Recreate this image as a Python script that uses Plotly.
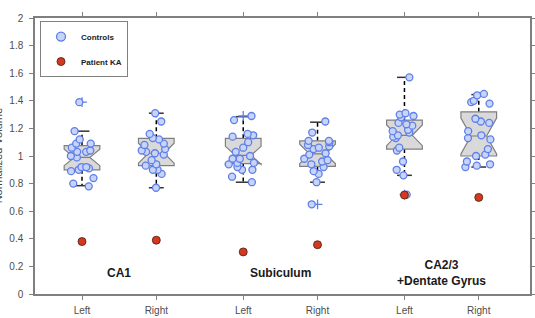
import plotly.graph_objects as go

# ---------------- data ----------------
tick_labels = ["Left", "Right", "Left", "Right", "Left", "Right"]
region_names = ["CA1", "Subiculum", "CA2/3<br>+Dentate Gyrus"]

ctrl_ca1_left = [1.39, 1.18, 1.12, 1.09, 1.09, 1.06, 1.04, 1.03, 1.03, 1.00,
                 0.99, 0.92, 0.92, 0.91, 0.90, 0.89, 0.84, 0.80, 0.78]
ctrl_ca1_right = [1.31, 1.25, 1.16, 1.13, 1.12, 1.09, 1.08, 1.05, 1.04, 1.03,
                  1.02, 1.01, 0.97, 0.94, 0.93, 0.90, 0.90, 0.87, 0.77]
ctrl_sub_left = [1.29, 1.26, 1.16, 1.15, 1.14, 1.10, 1.06, 1.03, 1.00, 0.98,
                 0.98, 0.95, 0.95, 0.94, 0.92, 0.90, 0.90, 0.85, 0.81]
ctrl_sub_right = [1.25, 1.17, 1.11, 1.11, 1.10, 1.08, 1.07, 1.06, 1.05, 1.02,
                  1.01, 0.98, 0.97, 0.96, 0.94, 0.92, 0.89, 0.87, 0.81, 0.65]
ctrl_ca23_left = [1.57, 1.31, 1.30, 1.29, 1.28, 1.24, 1.23, 1.22, 1.19, 1.18,
                  1.17, 1.15, 1.14, 1.13, 1.06, 1.04, 0.96, 0.90, 0.86, 0.72]
ctrl_ca23_right = [1.45, 1.44, 1.40, 1.39, 1.38, 1.27, 1.25, 1.24, 1.18, 1.15,
                   1.13, 1.12, 1.05, 1.01, 1.00, 0.96, 0.94, 0.93, 0.92]
controls = [ctrl_ca1_left, ctrl_ca1_right, ctrl_sub_left,
            ctrl_sub_right, ctrl_ca23_left, ctrl_ca23_right]

patient_ka = [0.38, 0.39, 0.305, 0.357, 0.717, 0.70]

# box statistics
box_q1 = [0.90, 0.93, 0.945, 0.925, 1.05, 1.00]
box_median = [0.99, 1.02, 1.005, 1.015, 1.15, 1.145]
box_q3 = [1.075, 1.128, 1.128, 1.11, 1.26, 1.32]
whisker_low = [0.785, 0.77, 0.81, 0.81, 0.86, 0.92]
whisker_high = [1.18, 1.31, 1.285, 1.245, 1.57, 1.445]
notch_half = [0.06, 0.072, 0.065, 0.07, 0.075, 0.13]

# ---------------- layout constants ----------------
positions = [1.0, 2.0, 3.17, 4.17, 5.34, 6.34]
box_width = 0.48
cap_half = 0.1

BOX_FILL = "#d9d9d9"
BOX_LINE = "#7f7f7f"
CTRL_FILL = "#c7d3f7"
CTRL_EDGE = "#5f7fe8"
PAT_FILL = "#d2391f"
PAT_EDGE = "#4d1a10"
AXIS_COL = "#7f7f7f"
FONT = "Liberation Sans, Arial, sans-serif"

fig = go.Figure()

# notched boxes (precomputed statistics, whiskers drawn separately)
fig.add_trace(go.Box(
    x=positions, q1=box_q1, median=box_median, q3=box_q3,
    lowerfence=box_q1, upperfence=box_q3, notchspan=notch_half,
    notched=True, notchwidth=0.28, width=box_width, whiskerwidth=0,
    fillcolor=BOX_FILL, line=dict(color=BOX_LINE, width=1.2),
    boxpoints=False, showlegend=False, hoverinfo="skip",
))

# outliers (+), drawn beneath the control circles
ox, oy = [], []
for p, vals, lo, hi in zip(positions, controls, whisker_low, whisker_high):
    for v in vals:
        if v < lo - 0.005 or v > hi + 0.005:
            ox.append(p)
            oy.append(v)
fig.add_trace(go.Box(
    x=ox, y=oy, boxpoints="all", jitter=0, pointpos=0, width=box_width,
    fillcolor="rgba(0,0,0,0)", line=dict(width=0, color="rgba(0,0,0,0)"),
    marker=dict(symbol="cross-thin", size=7, line=dict(color=CTRL_EDGE, width=1.3)),
    showlegend=False, hoverinfo="skip",
))

# control points, jittered by plotly
px_, py_ = [], []
for p, vals in zip(positions, controls):
    px_ += [p] * len(vals)
    py_ += vals
fig.add_trace(go.Box(
    x=px_, y=py_, boxpoints="all", jitter=0.9, pointpos=0,
    width=box_width, fillcolor="rgba(0,0,0,0)",
    line=dict(width=0, color="rgba(0,0,0,0)"),
    marker=dict(size=7, color=CTRL_FILL, line=dict(color=CTRL_EDGE, width=1.3)),
    showlegend=False, hoverinfo="y",
))

# patient
fig.add_trace(go.Scatter(
    x=positions, y=patient_ka, mode="markers", name="<b>Patient KA</b>",
    marker=dict(size=8, color=PAT_FILL, line=dict(color=PAT_EDGE, width=0.8)),
    legendrank=2, legendgroup="p",
))
# legend entry for controls
fig.add_trace(go.Scatter(
    x=[None], y=[None], mode="markers", name="<b>Controls</b>",
    marker=dict(size=9, color=CTRL_FILL, line=dict(color=CTRL_EDGE, width=1.3)),
    legendrank=1, legendgroup="c",
))

# whiskers (dashed) and caps as shapes below the data
for p, q1, q3, lo, hi in zip(positions, box_q1, box_q3, whisker_low, whisker_high):
    for a, b in ((q3, hi), (q1, lo)):
        fig.add_shape(type="line", xref="x", yref="y", x0=p, x1=p, y0=a, y1=b,
                      line=dict(color="black", width=1.5, dash="4px,3px"), layer="below")
        fig.add_shape(type="line", xref="x", yref="y", x0=p - cap_half, x1=p + cap_half,
                      y0=b, y1=b, line=dict(color="#333333", width=1.5), layer="below")

# region labels
for i, name in enumerate(region_names):
    xm = (positions[2 * i] + positions[2 * i + 1]) / 2
    fig.add_annotation(x=xm, y=0.152, xref="x", yref="y", text="<b>" + name + "</b>",
                       showarrow=False, font=dict(family=FONT, size=12, color="#1a1a1a"),
                       xanchor="center", yanchor="middle")

# y-axis title (mostly cut off at the left edge, as in the reference)
fig.add_annotation(x=-0.074, y=0.5, xref="paper", yref="paper", text="Normalized Volume",
                   textangle=-90, showarrow=False, xanchor="center", yanchor="middle",
                   font=dict(family=FONT, size=11, color="#444444"))

fig.update_layout(
    width=535, height=318,
    margin=dict(l=35, r=5, t=18, b=24, autoexpand=False),
    paper_bgcolor="white", plot_bgcolor="white",
    boxmode="overlay",
    font=dict(family=FONT, size=10, color="#4d4d4d"),
    showlegend=True,
    legend=dict(x=0.0101, y=0.989, xanchor="left", yanchor="top",
                bgcolor="white", bordercolor="#808080", borderwidth=1,
                font=dict(family=FONT, size=8, color="#222222"),
                traceorder="grouped", tracegroupgap=6),
)
fig.update_xaxes(
    range=[0.3674, 7.0296], tickmode="array", tickvals=positions, ticktext=tick_labels,
    showline=True, linecolor=AXIS_COL, linewidth=1.5, mirror="ticks", automargin=False,
    ticks="outside", ticklen=4, tickcolor=AXIS_COL, showgrid=False, zeroline=False,
    tickfont=dict(family=FONT, size=10, color="#4d4d4d"), ticklabelstandoff=2,
)
fig.update_yaxes(
    range=[0, 2], tickmode="array", tickvals=[0, 0.2, 0.4, 0.6, 0.8, 1, 1.2, 1.4, 1.6, 1.8, 2],
    ticktext=["0", "0.2", "0.4", "0.6", "0.8", "1", "1.2", "1.4", "1.6", "1.8", "2"],
    showline=True, linecolor=AXIS_COL, linewidth=1.5, mirror="ticks", automargin=False,
    ticks="outside", ticklen=4, tickcolor=AXIS_COL, showgrid=False, zeroline=False,
    tickfont=dict(family=FONT, size=10, color="#4d4d4d"), ticklabelstandoff=4,
)

fig.write_html("out.html")
